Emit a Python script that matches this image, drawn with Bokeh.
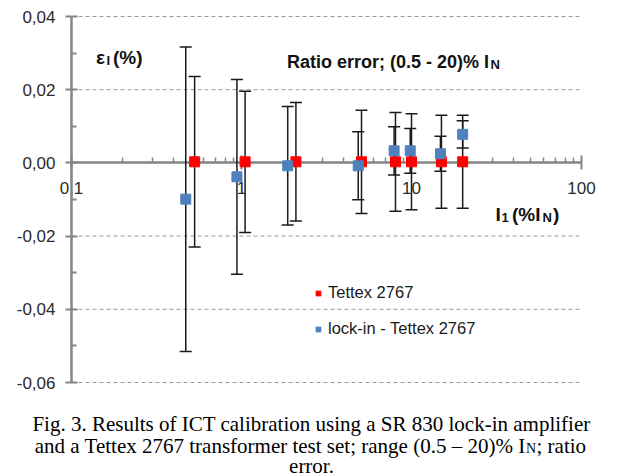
from bokeh.plotting import figure
from bokeh.models import (ColumnDataSource, Whisker, TeeHead, LogAxis, LinearAxis,
                          FixedTicker, CustomJSTickFormatter, Label, Legend, LegendItem)
from bokeh.embed import file_html
from bokeh.resources import INLINE

# ---------------- data ----------------
tettex_x = [0.53, 1.05, 2.09, 5.08, 8.05, 10, 15, 20]
tettex_y = [0.0003, 0.0003, 0.0003, 0.0003, 0.0003, 0.0003, 0.0003, 0.0003]
tettex_u = [0.0233, 0.0193, 0.0162, 0.0141, 0.0135, 0.0131, 0.0127, 0.0127]

lockin_x = [0.47, 0.94, 1.87, 4.86, 7.9, 9.83, 14.8, 20]
lockin_y = [-0.0099, -0.0038, -0.0008, -0.0008, 0.0033, 0.0033, 0.0025, 0.0078]
lockin_u = [0.0416, 0.0266, 0.0162, 0.0093, 0.0066, 0.0061, 0.0048, 0.0037]

y_ticks = [-0.06, -0.04, -0.02, 0.0, 0.02, 0.04]
y_minor = [-0.05, -0.03, -0.01, 0.01, 0.03]
y_grid = [-0.06, -0.04, -0.02, 0.02, 0.04]
x_ticks = [0.1, 1, 10, 100]
x_minor = [m * d for d in (0.1, 1, 10) for m in range(2, 10)]
x_bounds = (0.1, 100)
y_bounds = (-0.06, 0.04)

series_names = ["Tettex 2767", "lock-in - Tettex 2767"]
title_text = "Ratio error; (0.5 - 20)% I"
caption1 = "Fig. 3. Results of ICT calibration using a SR 830 lock-in amplifier"
caption2 = "and a Tettex 2767 transformer test set; range (0.5 \u2013 20)% I"
caption2b = "; ratio"
caption3 = "error."

SANS = "Liberation Sans"
SERIF = "Liberation Serif"
AXIS_GRAY = "#858585"

# ---------------- page geometry (pixels) ----------------
W, H = 622, 476
PX_LEFT, PX_RIGHT = 71, 581      # pixel of x = 0.1 and x = 100
PY_TOP, PY_BOT = 16, 382         # pixel of y = 0.04 and y = -0.06
dec_px = (PX_RIGHT - PX_LEFT) / 3.0
x_start = x_bounds[0] * 10 ** (-PX_LEFT / dec_px)
x_end = x_bounds[0] * 10 ** ((W - PX_LEFT) / dec_px)
y_per_px = (y_bounds[1] - y_bounds[0]) / (PY_BOT - PY_TOP)
y_end = y_bounds[1] + PY_TOP * y_per_px
y_start = y_bounds[0] - (H - PY_BOT) * y_per_px

red_src = ColumnDataSource(dict(
    x=tettex_x, y=tettex_y,
    lo=[y - u for y, u in zip(tettex_y, tettex_u)],
    hi=[y + u for y, u in zip(tettex_y, tettex_u)]))
blue_src = ColumnDataSource(dict(
    x=lockin_x, y=lockin_y,
    lo=[y - u for y, u in zip(lockin_y, lockin_u)],
    hi=[y + u for y, u in zip(lockin_y, lockin_u)]))

p = figure(width=W, height=H, x_axis_type="log", x_range=(x_start, x_end),
           y_range=(y_start, y_end), x_axis_location=None, y_axis_location=None,
           toolbar_location=None, output_backend="svg",
           min_border_left=0, min_border_right=0, min_border_top=0,
           min_border_bottom=0)
p.title.text = ""
p.title.visible = False
p.outline_line_color = None
p.background_fill_color = "white"
p.border_fill_color = "white"
p.grid.visible = False

# ---------------- grid lines ----------------
p.segment(x0=[x_bounds[0]] * len(y_grid), y0=y_grid,
          x1=[x_bounds[1]] * len(y_grid), y1=y_grid,
          line_color="#9a9a9a", line_dash="4 3", line_width=1, level="underlay")


def style_axis(ax, tick_in, tick_out, minor_in, standoff, minor_w):
    ax.axis_line_color = AXIS_GRAY
    ax.axis_line_width = 2.5
    ax.major_tick_line_color = AXIS_GRAY
    ax.major_tick_line_width = 2
    ax.minor_tick_line_color = AXIS_GRAY
    ax.minor_tick_line_width = minor_w
    ax.major_tick_in = tick_in
    ax.major_tick_out = tick_out
    ax.minor_tick_in = minor_in
    ax.minor_tick_out = 0
    ax.major_label_standoff = standoff
    ax.major_label_text_font = SANS
    ax.major_label_text_font_size = "17px"
    ax.major_label_text_color = "#2b2b2b"
    ax.level = "underlay"


# ---------------- y axis (at x = 0.1) ----------------
yax = LinearAxis(fixed_location=x_bounds[0], bounds=y_bounds,
                 ticker=FixedTicker(ticks=y_ticks, minor_ticks=y_minor),
                 formatter=CustomJSTickFormatter(
                     code="return tick.toFixed(2).replace('.', ',');"))
style_axis(yax, 6, 6, 5, 10, 2)
p.add_layout(yax, "left")

# ---------------- x axis (at y = 0) ----------------
xax = LogAxis(fixed_location=0, bounds=x_bounds,
              ticker=FixedTicker(ticks=x_ticks, minor_ticks=x_minor),
              formatter=CustomJSTickFormatter(
                  code="return (Math.round(tick*1000)/1000).toString().replace('.', ',');"))
style_axis(xax, 7, 7, 5, 12, 1.5)
p.add_layout(xax, "below")

# ---------------- error bars ----------------
for src in (red_src, blue_src):
    w = Whisker(source=src, base="x", upper="hi", lower="lo", dimension="height",
                line_color="#1a1a1a", line_width=1.5, level="underlay")
    w.upper_head = TeeHead(size=12, line_color="#1a1a1a", line_width=1.5)
    w.lower_head = TeeHead(size=12, line_color="#1a1a1a", line_width=1.5)
    p.add_layout(w)

# ---------------- markers ----------------
r_red = p.scatter("x", "y", source=red_src, marker="square", size=10,
                  fill_color="#FF0000", line_color="#FF0000")
r_blue = p.scatter("x", "y", source=blue_src, marker="square", size=10,
                   fill_color="#4F81BD", line_color="#4F81BD")

legend = Legend(items=[LegendItem(label=series_names[0], renderers=[r_red]),
                       LegendItem(label=series_names[1], renderers=[r_blue])],
                location=(312, H - 338.5), glyph_width=12, glyph_height=20,
                label_height=20, label_standoff=4, spacing=16, padding=0,
                margin=0, border_line_color=None, background_fill_alpha=0,
                label_text_font=SANS, label_text_font_size="16.5px",
                label_text_color="#1a1a1a")
p.add_layout(legend)


# ---------------- texts (positions in page pixels) ----------------
def lab(text, x, y, size, bold=True, align="left", font=SANS, color="#111111"):
    p.add_layout(Label(x=x, y=H - y, x_units="screen", y_units="screen",
                       text=text, text_font=font, text_font_size=f"{size}px",
                       text_font_style="bold" if bold else "normal",
                       text_align=align, text_baseline="alphabetic",
                       text_color=color))


# chart title
lab(title_text, 488.5, 61, 18, align="right")
lab("N", 490, 64, 13)
# y label
lab("\u03b5", 104.5, 57, 19, align="right")
lab("I", 106, 59.5, 13)
lab("(%)", 112.5, 57, 19)
# x label
lab("I", 495, 213.5, 19)
lab("1", 501, 217, 13)
lab("(%I", 511.5, 213.5, 19)
lab("N", 542, 217, 13)
lab(")", 552.5, 213.5, 19)

# caption
lab(caption1, 311, 423, 21, bold=False, align="center", font=SERIF, color="black")
lab(caption2, 525, 445, 21, bold=False, align="right", font=SERIF, color="black")
lab("N", 525.5, 448, 14, bold=False, align="left", font=SERIF, color="black")
lab(caption2b, 536, 445, 21, bold=False, align="left", font=SERIF, color="black")
lab(caption3, 311, 465, 21, bold=False, align="center", font=SERIF, color="black")

open("out.html", "w").write(file_html(p, INLINE))
